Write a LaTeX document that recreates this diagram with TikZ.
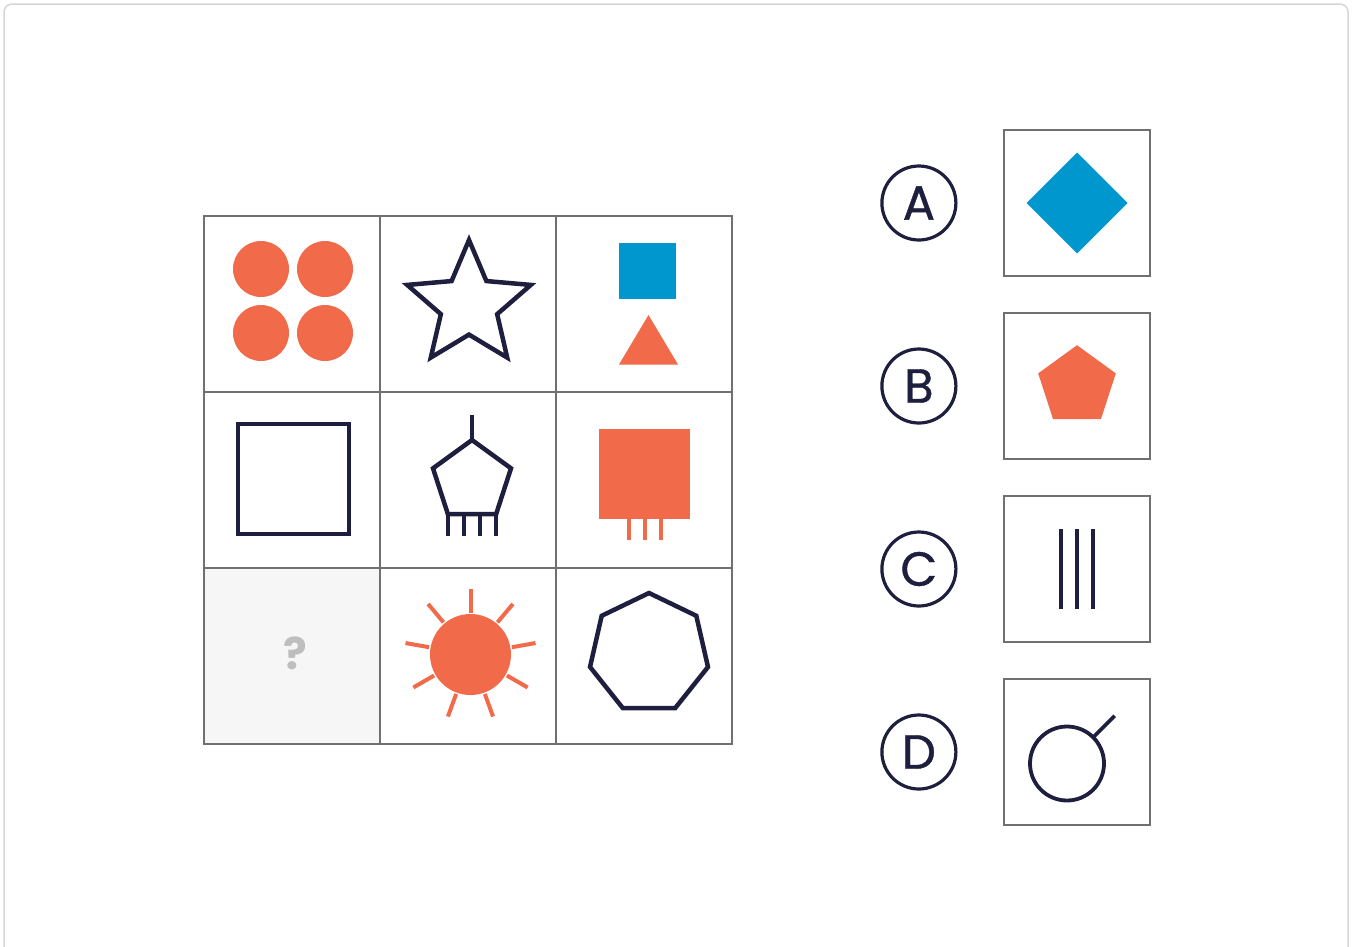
\documentclass[tikz,border=0pt]{standalone}
\usepackage{fontspec}
\setmainfont{Poppins}
\newfontfamily\pzletter[FakeBold=0.8]{Poppins}
\usetikzlibrary{positioning}
\definecolor{pzorange}{RGB}{241,106,74}
\definecolor{pzblue}{RGB}{0,150,206}
\definecolor{pznavy}{RGB}{30,30,62}
\definecolor{pzgrid}{RGB}{112,112,112}
\definecolor{pzframe}{RGB}{214,214,214}
\definecolor{pzblank}{RGB}{246,246,246}
\definecolor{pzquery}{RGB}{190,190,190}
\begin{document}
\begin{tikzpicture}[x=1pt, y=-1pt, node distance=0pt,
  cell/.style={rectangle, draw=pzgrid, line width=1.8pt, minimum size=176pt, inner sep=0pt, outer sep=0pt},
  optbox/.style={rectangle, draw=pzgrid, line width=1.8pt, minimum size=146pt, inner sep=0pt, outer sep=0pt},
  letter/.style={circle, draw=pznavy, line width=3.2pt, minimum size=74pt, inner sep=0pt, text=pznavy, font=\pzletter\fontsize{48}{48}\selectfont},
  navyline/.style={draw=pznavy, line width=4.5pt},
  rayline/.style={draw=pzorange, line width=4pt}
]
\useasboundingbox (0,0) rectangle (1352,946);
\clip (0,0) rectangle (1352,946);
\draw[pzframe, line width=1.5pt, rounded corners=8pt] (4,4) rectangle (1348,990);
% puzzle grid
\node[cell] (c11) at (292,304) {};
\node[cell, right=of c11] (c12) {};
\node[cell, right=of c12] (c13) {};
\node[cell, below=of c11] (c21) {};
\node[cell, right=of c21] (c22) {};
\node[cell, right=of c22] (c23) {};
\node[cell, below=of c21, fill=pzblank] (c31) {};
\node[cell, right=of c31] (c32) {};
\node[cell, right=of c32] (c33) {};
% row 1
\foreach \cx/\cy in {261/269, 325/269, 261/333, 325/333}
  \fill[pzorange] (\cx,\cy) circle (28);
\begin{scope}[shift={(469,305)}]
  \draw[navyline] (-90:65) \foreach \k in {1,...,9} { -- ({-90+36*\k}:{65-35.4*mod(\k,2)}) } -- cycle;
\end{scope}
\fill[pzblue] (619,243) rectangle (676,299);
\fill[pzorange] (648.5,315) -- (678,364.5) -- (619,364.5) -- cycle;
% row 2
\draw[navyline] (238,424) rectangle (349,534);
\begin{scope}[shift={(472,481)}]
  \draw[navyline] (-90:41) \foreach \k in {1,...,4} { -- ({-90+72*\k}:41) } -- cycle;
  \draw[navyline] (-90:41) -- (0,-66);
  \foreach \lx in {-24,-8,8,24}
    \draw[navyline] (\lx,33) -- (\lx,55);
\end{scope}
\fill[pzorange] (599,429) rectangle (690,519);
\foreach \lx in {629,645,661}
  \draw[rayline] (\lx,518) -- (\lx,540);
% row 3
\node[text=pzquery, font=\fontsize{44}{44}\selectfont\bfseries] (query) at (295,653) {?};
\begin{scope}[shift={(470.5,654.5)}]
  \fill[pzorange] (0,0) circle (40.5);
  \foreach \k in {0,...,8}
    \draw[rayline] ({-90+40*\k}:42) -- ({-90+40*\k}:66);
\end{scope}
\begin{scope}[shift={(649,653.5)}]
  \draw[navyline] (-90:60.5) \foreach \k in {1,...,6} { -- ({-90+360/7*\k}:60.5) } -- cycle;
\end{scope}
% answer options
\node[optbox] (optA) at (1077,203) {};
\node[optbox, below=37pt of optA] (optB) {};
\node[optbox, below=37pt of optB] (optC) {};
\node[optbox, below=37pt of optC] (optD) {};
\node[letter, left=46.5pt of optA] (lblA) {A};
\node[letter, left=46.5pt of optB] (lblB) {B};
\node[letter, left=46.5pt of optC] (lblC) {C};
\node[letter, left=46.5pt of optD] (lblD) {D};
\fill[pzblue] (1077,152.5) -- (1127.5,203) -- (1077,253.5) -- (1026.5,203) -- cycle;
\begin{scope}[shift={(optB.center)}]
  \fill[pzorange] (-90:40.8) \foreach \k in {1,...,4} { -- ({-90+72*\k}:40.8) } -- cycle;
\end{scope}
\foreach \lx in {-16,0,16}
  \draw[navyline, line width=4pt] ([xshift=\lx pt]optC.center) ++(0,-40) -- ++(0,80);
\begin{scope}[shift={(1067,763.5)}]
  \draw[navyline, line width=3.8pt] (0,0) circle (37);
  \draw[navyline, line width=3.8pt] (-45:37) -- (-45:67.5);
\end{scope}
\end{tikzpicture}
\end{document}
